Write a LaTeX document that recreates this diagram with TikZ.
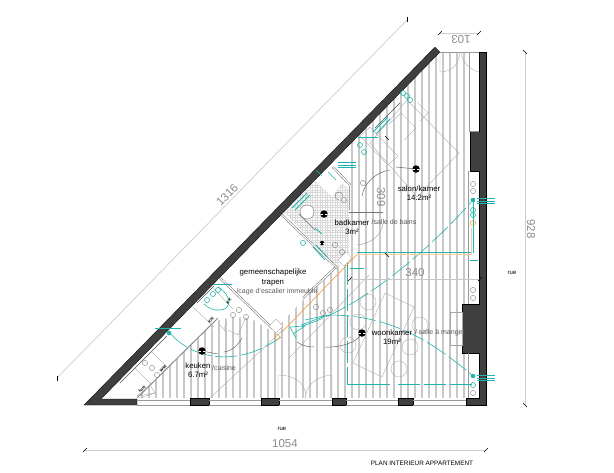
\documentclass[tikz,border=0pt]{standalone}
\usepackage{fontspec}
\setmainfont{Liberation Sans}
\usetikzlibrary{positioning}
\definecolor{wallgrey}{HTML}{3F3F3F}
\definecolor{hatchgrey}{HTML}{C8C8C8}
\definecolor{tealwire}{HTML}{1FB5AC}
\definecolor{orangewire}{HTML}{F2A24A}
\definecolor{paleorange}{HTML}{F5CE9C}
\tikzset{
    wall/.style={
           fill=wallgrey,
           draw=black, line width=.3pt,
           },
    hatch/.style={
           draw=hatchgrey, line width=1.2pt,
           },
    dimline/.style={
           draw=black!20, line width=.7pt,
           },
    dimtick/.style={
           draw=black, line width=.6pt,
           },
    dimtext/.style={
           text=black!45,
           font=\fontsize{11.5}{12}\selectfont,
           inner sep=0pt,
           },
    roomtext/.style={
           text=black,
           font=\fontsize{7.8}{9.2}\selectfont,
           inner sep=0pt,
           align=center,
           },
    subtext/.style={
           text=black!65,
           font=\fontsize{7}{8}\selectfont,
           inner sep=0pt,
           },
    smalltext/.style={
           text=black,
           font=\fontsize{4}{4}\selectfont\bfseries,
           inner sep=0pt,
           rotate=45,
           },
    partition/.style={
           draw=black!70, line width=.4pt,
           double=white, double distance=1.3pt,
           },
    furniture/.style={
           draw=black!35, line width=.35pt,
           },
    doorline/.style={
           draw=black!60, line width=.5pt,
           },
    wire/.style={
           draw=tealwire, line width=.6pt,
           },
    wiredash/.style={
           draw=tealwire, line width=.6pt,
           dash pattern=on 22pt off 4pt,
           },
    lightpoint/.style={
           circle, fill=black,
           minimum size=7.5pt, inner sep=0pt,
           path picture={
             \fill[white] ([xshift=-4pt,yshift=-.5pt]path picture bounding box.center)
               rectangle ([xshift=-1pt,yshift=.5pt]path picture bounding box.center);
             \fill[white] ([xshift=1pt,yshift=-.5pt]path picture bounding box.center)
               rectangle ([xshift=4pt,yshift=.5pt]path picture bounding box.center);
           },
           },
}
\newcommand{\tealstack}[2]{%
  \foreach \dy in {-2.5,0,2.5} {
    \draw[tealwire,line width=.7pt] (#1,#2+\dy) -- ++(18,0);
  }%
}
\begin{document}
\begin{tikzpicture}[x=1pt,y=-1pt]
 \useasboundingbox (0,0) rectangle (614,472);
 % floor boards
 \begin{scope}
  \clip (137,398) -- (216,321) -- (232,317) -- (250,318) -- (273,332) -- (303,300)
    -- (337,268) -- (349,256) -- (349,145) -- (440,52) -- (468,52) -- (468,398) -- cycle;
  \foreach \hx in {142,149,...,470} {
    \draw[hatch] (\hx,40) -- (\hx,398);
  }
 \end{scope}
 % tiles of the bathroom
 \begin{scope}
  \clip (285,213) -- (315,181) -- (332,197) -- (342,183) -- (349,190) -- (349,256) -- (337,268) -- cycle;
  \foreach \tx in {270,272.5,...,370} {
    \draw[black!15,line width=.25pt] (\tx,160) -- (\tx,270);
  }
  \foreach \ty in {160,162.5,...,270} {
    \draw[black!15,line width=.25pt] (270,\ty) -- (370,\ty);
  }
 \end{scope}
 % walls
 \draw[wall] (84,405) -- (435,47) -- (440,52) -- (101,399) -- (137,399) -- (137,405) -- cycle;
 \draw[wall] (190,398) rectangle (209,405);
 \draw[wall] (261,398) rectangle (279,405);
 \draw[wall] (332,398) rectangle (346,405);
 \draw[wall] (398,398) rectangle (413,405);
 \draw[wall] (479,52) -- (486,52) -- (486,405) -- (466,405) -- (466,398) -- (479,398)
   -- (479,353) -- (462,353) -- (462,304) -- (479,304) -- (479,171) -- (470,171) -- (470,131)
   -- (479,131) -- cycle;
 % windows
 \foreach \ax/\bx in {137/190,209/261,279/332,346/398,413/466} {
  \draw[black!40,line width=.3pt] (\ax,400) -- (\bx,400);
  \draw[black!40,line width=.3pt] (\ax,405) -- (\bx,405);
 }
 \draw[black!40,line width=.3pt] (468,171) -- (468,304);
 \draw[black!40,line width=.3pt] (468,353) -- (468,398);
 \draw[black!40,line width=.3pt] (469,52) -- (469,131) -- (479,131);
 \draw[black!40,line width=.3pt] (440,52) -- (479,52);
 % inner walls
 \draw[partition] (220,278) -- (273,329);
 \draw[partition] (282,215) -- (337,268);
 \draw[partition] (333,167) -- (350,185);
 \draw[partition] (335,268) -- (303,298);
 \draw[furniture,fill=white] (269,326) -- (276,319) -- (283,326) -- (276,333) -- cycle;
 \draw[furniture,fill=white] (346,252) -- (352,258) -- (344,266) -- (338,260) -- cycle;
 % kitchen units
 \draw[black!45,line width=1pt] (137,398) -- (218,318);
 \draw[black!70,line width=.4pt] (120,383) -- (167,336);
 \draw[black!70,line width=.4pt] (197,303) -- (214,286);
 \draw[black!70,line width=.4pt] (375,128) -- (400,103);
 \draw[furniture] (135,368) -- (152,385);
 \draw[furniture] (152,352) -- (168,368);
 \draw[furniture] (193,307) -- (214,327);
 \draw[furniture] (213,288) -- (233,309);
 \draw[furniture] (137,396) -- (155,393) -- (150,385) -- (137,396) (140,398) -- (155,393);
 \foreach \cx/\cy in {145/363,152/368,157/375,233/315,239/310,246/317,473/184,473/191,473/290,473/298,473/393,363/183,344/200,335/245,342/252,330/310,323/313,316/307} {
  \draw[black!55,line width=.35pt] (\cx,\cy) circle (2.6pt);
 }
 \draw[furniture] (246,317) -- (238,335) -- (228,330) (226,322) -- (224,330) (220,325) -- (226,332);
 % bathroom fittings
 \draw[black!55,line width=.4pt,fill=white] (307,212) circle (7pt and 7pt);
 \draw[black!55,line width=.4pt] (343,196) arc (0:270:4pt);
 \draw[black!55,line width=.4pt] (315,230) -- (299,214);
 \draw[black!55,line width=.4pt] (349,212) -- (383,212);
 \draw[black!40,line width=.4pt] (383,224) .. controls (381,236) and (370,244) .. (357,245);
 % furniture
 \draw[furniture] (385,293) -- (414,307) -- (382,377) -- (353,363) -- cycle;
 \foreach \cx/\cy in {368/302,358/322,348/345,420/325,410/347,399/369} {
  \draw[furniture] (\cx,\cy) circle (8pt);
 }
 \draw[furniture] (407,100) -- (459,153) -- (417,197) -- (370,143) -- cycle;
 \draw[furniture] (360,136) -- (370,127) -- (398,156) -- (388,165) -- cycle;
 \draw[furniture] (389,124) -- (401,113) -- (416,128) -- (404,140);
 \draw[furniture] (417,102) -- (428,113) -- (420,121);
 \draw[furniture] (450,312) rectangle (462,345);
 \draw[black!35,line width=.35pt] (210,398) -- (283,330);
 \draw[black!35,line width=.35pt] (289,358) -- (369,275);
 % doors
 \draw[furniture] (278,398) -- (278,375) .. controls (296,375) and (308,385) .. (305,399);
 \draw[furniture] (332,398) -- (332,375) .. controls (316,376) and (304,387) .. (306,399);
 \draw[furniture] (440,52) -- (440,72) .. controls (452,72) and (459,64) .. (460,52);
 \draw[furniture] (479,72) .. controls (470,70) and (462,62) .. (461,52);
 \draw[furniture] (349,210) -- (349,186);
 % wiring
 \draw[wiredash] (170,333) .. controls (190,357) and (235,370) .. (281,337);
 \draw[wire] (213,284) -- (232,284);
 \draw[wire] (155,328) -- (181,328);
 \draw[wire] (218,287) .. controls (232,295) and (232,310) .. (220,310) .. controls (214,311) and (208,308) .. (204,304);
 \foreach \cx/\cy in {207/300,213/294,218/290,403/93,407/96,410/100,360/145,364/152,473/215,473/210,473/385,303/243} {
  \draw[wire] (\cx,\cy) circle (2.5pt);
 }
 \draw[wiredash] (302,326) .. controls (355,310) and (420,260) .. (473,200);
 \draw[wire] (301,325) -- (328,315) -- (305,320);
 \draw[wire] (293,334) -- (305,326) -- (290,327) -- (296,338);
 \draw[wiredash] (328,315) .. controls (390,315) and (430,340) .. (472,375);
 \draw[wiredash] (347,263) -- (347,384);
 \draw[wire] (347,384) -- (390,384);
 \draw[wiredash] (398,384) -- (473,384);
 \draw[wire] (350,268) -- (364,268);
 \draw[wire] (357,252.5) -- (472,252.5);
 \draw[wire] (473,200) -- (473,253);
 \draw[draw=paleorange,line width=1pt] (357,254.5) -- (471,254.5) -- (471,228);
 \draw[draw=orangewire,line width=.7pt] (357,254.5) -- (282,332);
 \draw[draw=orangewire,line width=.6pt] (277,337) circle (2.6pt);
 \draw[draw=orangewire,line width=.6pt] (473,223) circle (2.6pt);
 \draw[wire,line width=.8pt] (292,208) -- (307,193) (295,210) -- (310,195);
 \draw[wire,line width=.8pt] (313,247) -- (325,260) (316,245) -- (328,258);
 \draw[wire,line width=.8pt] (373,132) -- (388,117) (376,134) -- (390,119);
 \draw[wire,line width=.8pt] (315,228) -- (322,234);
 \draw[wire] (358,137) -- (378,137);
 \draw[wire] (316,170) -- (322,176) (328,172) -- (336,180);
 \draw[wire] (470,260) -- (478,260);
 \tealstack{477}{201}
 \tealstack{477}{378}
 \tealstack{338}{165}
 \fill[tealwire] (473,200) circle (2.3pt);
 \fill[tealwire] (473,376) circle (2.3pt);
 \fill[tealwire] (169,333) circle (2.3pt);
 % light points
 \node[lightpoint] (lampKeuken) at (202,351) {};
 \node[lightpoint] (lampWoon) at (362,333) {};
 \node[lightpoint] (lampBad) at (324,214) {};
 \node[lightpoint] (lampSalon) at (416,169) {};
 \node[lightpoint,minimum size=4.5pt] (lampGang) at (322,243) {};
 \draw[doorline] (lampKeuken) -- (218,354);
 \draw[doorline] (224,352) .. controls (232,351) and (238,345) .. (242,338);
 \draw[doorline] (lampWoon) .. controls (356,342) and (340,348) .. (325,347);
 \draw[doorline] (314,347) .. controls (308,347) and (303,346) .. (297,342);
 \draw[doorline] (lampSalon) -- (396,167);
 \draw[doorline] (390,170) .. controls (376,172) and (364,183) .. (362,196);
 % dimensions
 \draw[dimline] (57,378) -- (407,20);
 \draw[dimtick] (57,376) -- (57,381);
 \draw[dimtick] (407,17) -- (407,22);
 \node[dimtext,rotate=45] (lenDiag) at (227,195) {1316};
 \draw[dimline] (85,450) -- (486,450);
 \draw[dimtick] (83,452) -- (87,448);
 \draw[dimtick] (484,452) -- (488,448);
 \node[dimtext] (lenBottom) at (285,444) {1054};
 \draw[dimline] (525,52) -- (525,405);
 \draw[dimtick] (523,50) -- (527,54);
 \draw[dimtick] (523,403) -- (527,407);
 \node[dimtext,rotate=-90] (lenRight) at (531,229) {928};
 \draw[dimline] (440,33) -- (479,33);
 \draw[dimtick] (438,35) -- (442,31);
 \draw[dimtick] (477,35) -- (481,31);
 \node[dimtext,rotate=180] (lenTop) at (461,39) {103};
 \draw[black!22,line width=.4pt] (350,279) -- (480,279);
 \draw[dimtick] (348,281) -- (352,277);
 \draw[dimtick] (478,281) -- (482,277);
 \node[dimtext] (lenWoon) at (415,273) {340};
 \draw[black!22,line width=.4pt] (387,138) -- (387,255);
 \draw[dimtick] (385,136) -- (389,140);
 \draw[dimtick] (385,253) -- (389,257);
 \node[dimtext,rotate=-90] (lenSalon) at (381,197) {309};
 % labels
 \node[roomtext] (stairs) at (273,277.5) {gemeenschapelijke\\trapen};
 \node[subtext] (stairsFr) at (277,292) {/cage d'escalier immeuble};
 \node[roomtext] (bath) at (352,227.5) {badkamer\\3m²};
 \node[subtext] (bathFr) at (394,222) {/salle de bains};
 \node[roomtext] (salon) at (419,193.5) {salon/kamer\\14.2m²};
 \node[roomtext] (kitchen) at (198,370.5) {keuken\\6.7m²};
 \node[subtext] (kitchenFr) at (224,368) {/cuisine};
 \node[roomtext] (living) at (392,337.5) {woonkamer\\19m²};
 \node[subtext] (livingFr) at (440,333) {/ salle à manger};
 \node[smalltext] (cabKast) at (142,389) {kast};
 \node[smalltext] (cabWm) at (163,369) {WM};
 \node[smalltext] (cabKk) at (211,320) {K/K};
 \node[smalltext] (cabKk2) at (229,301) {KK};
 \node[subtext,text=black,font=\fontsize{6}{7}\selectfont] (rueRight) at (512,273) {rue};
 \node[subtext,text=black,font=\fontsize{6}{7}\selectfont] (rueBottom) at (282,429) {rue};
 \node[subtext,text=black,font=\fontsize{6.4}{7}\selectfont] (title) at (422,463) {PLAN INTERIEUR APPARTEMENT};
\end{tikzpicture}
\end{document}
